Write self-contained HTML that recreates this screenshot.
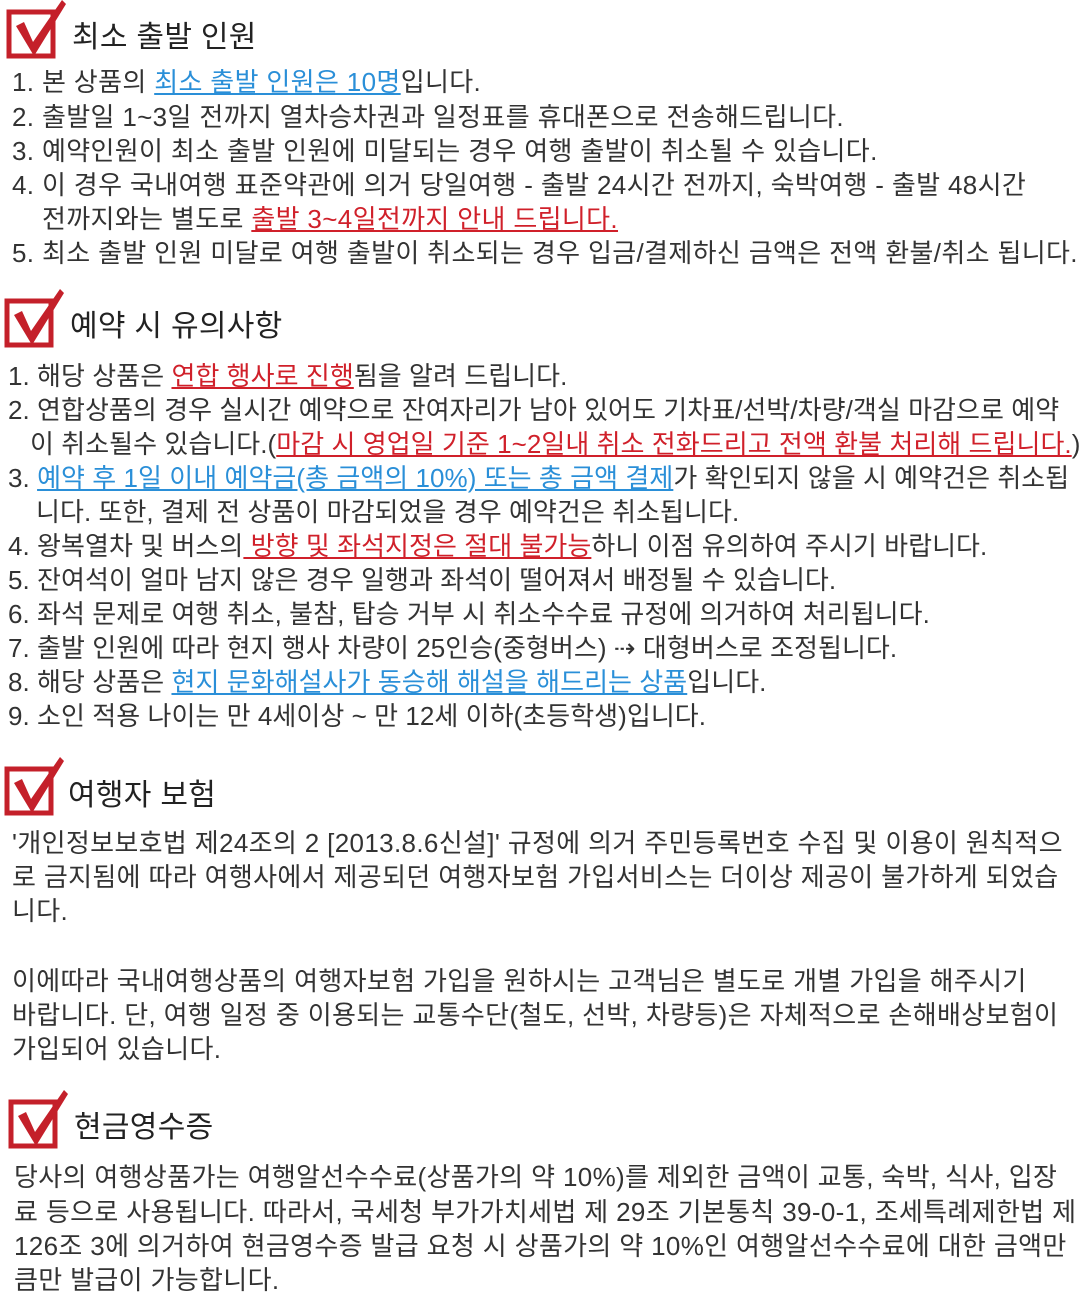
<!DOCTYPE html>
<html><head><meta charset="utf-8"><style>
html,body{margin:0;padding:0;background:#fff;width:1080px;height:1300px;overflow:hidden}
body{position:relative;font-family:"Liberation Sans","Noto Sans CJK KR",sans-serif;color:#333;font-size:26px;letter-spacing:0.35px}
.l{position:absolute;white-space:nowrap;line-height:34px;height:34px}
.s2{letter-spacing:0.05px}
.h{position:absolute;font-size:30px;color:#222;line-height:40px;white-space:nowrap;letter-spacing:0.3px}
.b{color:#2a8fd8;text-decoration:underline}
.r{color:#d0202a;text-decoration:underline}
svg{position:absolute}
</style></head><body>
<svg style="left:6px;top:0" width="62" height="62" viewBox="0 0 62 62"><rect x="3" y="12" width="44" height="44" fill="none" stroke="#c4202a" stroke-width="5"/><path d="M10 26 L18 22 L27 42 L56 0 L60 4 L28 56 Z" fill="#c4202a"/></svg>
<div class="h" style="left:72px;top:18px">최소 출발 인원</div>
<div class="l" style="left:12px;top:65px">1. 본 상품의 <span class="b">최소 출발 인원은 10명</span>입니다.</div>
<div class="l" style="left:12px;top:100px">2. 출발일 1~3일 전까지 열차승차권과 일정표를 휴대폰으로 전송해드립니다.</div>
<div class="l" style="left:12px;top:134px">3. 예약인원이 최소 출발 인원에 미달되는 경우 여행 출발이 취소될 수 있습니다.</div>
<div class="l" style="left:12px;top:168px">4. 이 경우 국내여행 표준약관에 의거 당일여행 - 출발 24시간 전까지, 숙박여행 - 출발 48시간</div>
<div class="l" style="left:42px;top:202px">전까지와는 별도로 <span class="r">출발 3~4일전까지 안내 드립니다.</span></div>
<div class="l" style="left:12px;top:236px">5. 최소 출발 인원 미달로 여행 출발이 취소되는 경우 입금/결제하신 금액은 전액 환불/취소 됩니다.</div>

<svg style="left:4px;top:289px" width="62" height="62" viewBox="0 0 62 62"><rect x="3" y="12" width="44" height="44" fill="none" stroke="#c4202a" stroke-width="5"/><path d="M10 26 L18 22 L27 42 L56 0 L60 4 L28 56 Z" fill="#c4202a"/></svg>
<div class="h" style="left:70px;top:307px">예약 시 유의사항</div>
<div class="l s2" style="left:8px;top:359px">1. 해당 상품은 <span class="r">연합 행사로 진행</span>됨을 알려 드립니다.</div>
<div class="l s2" style="left:8px;top:393px">2. 연합상품의 경우 실시간 예약으로 잔여자리가 남아 있어도 기차표/선박/차량/객실 마감으로 예약</div>
<div class="l s2" style="left:30px;top:427px">이 취소될수 있습니다.(<span class="r">마감 시 영업일 기준 1~2일내 취소 전화드리고 전액 환불 처리해 드립니다.</span>)</div>
<div class="l s2" style="left:8px;top:461px">3. <span class="b">예약 후 1일 이내 예약금(총 금액의 10%) 또는 총 금액 결제</span>가 확인되지 않을 시 예약건은 취소됩</div>
<div class="l s2" style="left:36px;top:495px">니다. 또한, 결제 전 상품이 마감되었을 경우 예약건은 취소됩니다.</div>
<div class="l s2" style="left:8px;top:529px">4. 왕복열차 및 버스의<span class="r"> 방향 및 좌석지정은 절대 불가능</span>하니 이점 유의하여 주시기 바랍니다.</div>
<div class="l s2" style="left:8px;top:563px">5. 잔여석이 얼마 남지 않은 경우 일행과 좌석이 떨어져서 배정될 수 있습니다.</div>
<div class="l s2" style="left:8px;top:597px">6. 좌석 문제로 여행 취소, 불참, 탑승 거부 시 취소수수료 규정에 의거하여 처리됩니다.</div>
<div class="l s2" style="left:8px;top:631px">7. 출발 인원에 따라 현지 행사 차량이 25인승(중형버스) ⇢ 대형버스로 조정됩니다.</div>
<div class="l s2" style="left:8px;top:665px">8. 해당 상품은 <span class="b">현지 문화해설사가 동승해 해설을 해드리는 상품</span>입니다.</div>
<div class="l s2" style="left:8px;top:699px">9. 소인 적용 나이는 만 4세이상 ~ 만 12세 이하(초등학생)입니다.</div>

<svg style="left:4px;top:757px" width="62" height="62" viewBox="0 0 62 62"><rect x="3" y="12" width="44" height="44" fill="none" stroke="#c4202a" stroke-width="5"/><path d="M10 26 L18 22 L27 42 L56 0 L60 4 L28 56 Z" fill="#c4202a"/></svg>
<div class="h" style="left:68px;top:776px">여행자 보험</div>
<div class="l" style="left:12px;top:826px">'개인정보보호법 제24조의 2 [2013.8.6신설]' 규정에 의거 주민등록번호 수집 및 이용이 원칙적으</div>
<div class="l" style="left:12px;top:860px">로 금지됨에 따라 여행사에서 제공되던 여행자보험 가입서비스는 더이상 제공이 불가하게 되었습</div>
<div class="l" style="left:12px;top:894px">니다.</div>
<div class="l" style="left:12px;top:964px">이에따라 국내여행상품의 여행자보험 가입을 원하시는 고객님은 별도로 개별 가입을 해주시기</div>
<div class="l" style="left:12px;top:998px">바랍니다. 단, 여행 일정 중 이용되는 교통수단(철도, 선박, 차량등)은 자체적으로 손해배상보험이</div>
<div class="l" style="left:12px;top:1032px">가입되어 있습니다.</div>

<svg style="left:8px;top:1090px" width="62" height="62" viewBox="0 0 62 62"><rect x="3" y="12" width="44" height="44" fill="none" stroke="#c4202a" stroke-width="5"/><path d="M10 26 L18 22 L27 42 L56 0 L60 4 L28 56 Z" fill="#c4202a"/></svg>
<div class="h" style="left:74px;top:1108px">현금영수증</div>
<div class="l" style="left:14px;top:1160px">당사의 여행상품가는 여행알선수수료(상품가의 약 10%)를 제외한 금액이 교통, 숙박, 식사, 입장</div>
<div class="l" style="left:14px;top:1195px">료 등으로 사용됩니다. 따라서, 국세청 부가가치세법 제 29조 기본통칙 39-0-1, 조세특례제한법 제</div>
<div class="l" style="left:14px;top:1229px">126조 3에 의거하여 현금영수증 발급 요청 시 상품가의 약 10%인 여행알선수수료에 대한 금액만</div>
<div class="l" style="left:14px;top:1263px">큼만 발급이 가능합니다.</div>
</body></html>
